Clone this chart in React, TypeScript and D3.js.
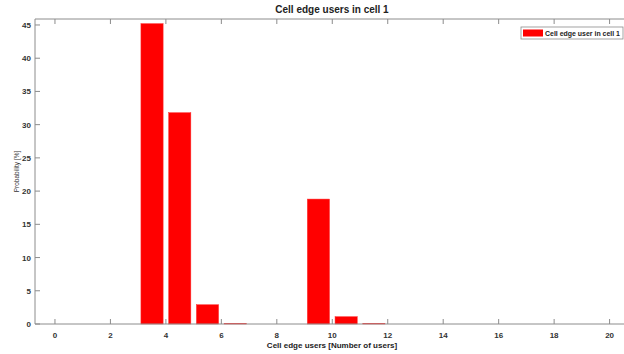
import React from "react";
import * as d3 from "d3";

// Histogram of cell edge users in cell 1 (bin centres and probability in %)
const binCenters = [3.5, 4.5, 5.5, 6.5, 9.5, 10.5, 11.5];
const probabilities = [45.2, 31.8, 2.9, 0.1, 18.8, 1.1, 0.1];
const xTicks = [0, 2, 4, 6, 8, 10, 12, 14, 16, 18, 20];
const yTicks = [0, 5, 10, 15, 20, 25, 30, 35, 40, 45];

const W = 624;
const H = 354;
const left = 35;
const right = 629;
const top = 19;
const bottom = 324;
const axisColor = "#8c8c8c";
const font = "'Liberation Sans', Arial, sans-serif";

export default function App() {
  const x = d3.scaleLinear().domain([-0.72, 20.7]).range([left, right]);
  const y = d3.scaleLinear().domain([0, 45.9]).range([bottom, top]);
  const barW = x(0.8) - x(0);
  const tickLen = 5;

  return (
    <svg
      width={W}
      height={H}
      style={{ position: "absolute", left: 0, top: 0, background: "#fff" }}
      fontFamily={font}
    >
      <rect x={0} y={0} width={W} height={H} fill="#fff" />
      {/* bars */}
      {binCenters.map((c, i) => (
        <rect
          key={i}
          x={x(c) - barW / 2}
          y={y(probabilities[i])}
          width={barW}
          height={Math.max(0.6, y(0) - y(probabilities[i]))}
          fill="#ff0000"
          stroke="#ff3030"
          strokeWidth={0.5}
        />
      ))}
      {/* axes box: left, bottom, top */}
      <line x1={left} x2={W} y1={bottom} y2={bottom} stroke={axisColor} strokeWidth={1} />
      <line x1={left} x2={W} y1={top} y2={top} stroke={axisColor} strokeWidth={1} />
      <line x1={left} x2={left} y1={top} y2={bottom} stroke={axisColor} strokeWidth={1} />
      {/* x ticks */}
      {xTicks.map((t) => (
        <g key={"x" + t}>
          <line x1={x(t)} x2={x(t)} y1={bottom} y2={bottom - tickLen} stroke={axisColor} />
          <line x1={x(t)} x2={x(t)} y1={top} y2={top + tickLen} stroke={axisColor} />
          <text
            x={x(t)}
            y={bottom + 14}
            textAnchor="middle"
            fontSize={8}
            fontWeight="bold"
            fill="#333"
          >
            {t}
          </text>
        </g>
      ))}
      {/* y ticks */}
      {yTicks.map((t) => (
        <g key={"y" + t}>
          <line x1={left} x2={left + tickLen} y1={y(t)} y2={y(t)} stroke={axisColor} />
          <text
            x={left - 4}
            y={y(t) + 3}
            textAnchor="end"
            fontSize={8}
            fontWeight="bold"
            fill="#333"
          >
            {t}
          </text>
        </g>
      ))}
      {/* title and labels */}
      <text x={332} y={13} textAnchor="middle" fontSize={10} fontWeight="bold" fill="#222">
        Cell edge users in cell 1
      </text>
      <text x={332} y={348} textAnchor="middle" fontSize={8} fontWeight="bold" fill="#222">
        Cell edge users [Number of users]
      </text>
      <text
        transform={`translate(19,${(top + bottom) / 2}) rotate(-90)`}
        textAnchor="middle"
        fontSize={6.5}
        fill="#333"
      >
        Probability [%]
      </text>
      {/* legend */}
      <rect x={521} y={27} width={102} height={12} fill="#fff" stroke={axisColor} strokeWidth={0.8} />
      <rect x={523} y={29.5} width={20} height={7} fill="#ff0000" />
      <text
        x={545}
        y={36}
        fontSize={7}
        fontWeight="bold"
        fill="#222"
        textLength={75}
        lengthAdjust="spacingAndGlyphs"
      >
        Cell edge user in cell 1
      </text>
    </svg>
  );
}
